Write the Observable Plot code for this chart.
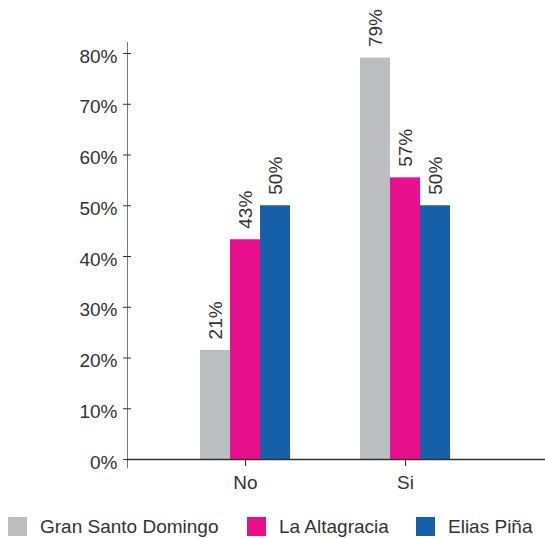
<!DOCTYPE html>
<html>
<head>
<meta charset="utf-8">
<script src="https://cdn.jsdelivr.net/npm/d3@7"></script>
<script src="https://cdn.jsdelivr.net/npm/@observablehq/plot@0.6"></script>
<style>
  body { margin: 0; background: #fff; }
  #chart { width: 545px; height: 538px; position: relative; overflow: hidden; background: #fff; }
  #chart svg { position: absolute; left: 0; top: 0; }
  .legend { position: absolute; left: 0; top: 517px; height: 21px; font-family: "Liberation Sans", Arial, sans-serif; font-size: 19px; color: #333; }
  .legend .sw { position: absolute; top: 0; width: 19px; height: 19px; }
  .legend .lab { position: absolute; top: -1px; line-height: 21px; white-space: nowrap; }
</style>
</head>
<body>
<div id="chart"></div>
<script>
const answers = ["No", "Si"];
const series = ["Gran Santo Domingo", "La Altagracia", "Elias Piña"];
const colors = ["#bcbdc0", "#e8108c", "#1560a8"];
const valuesNo = [21.5, 43.3, 50];
const valuesSi = [79.1, 55.5, 50];
const labelsNo = ["21%", "43%", "50%"];
const labelsSi = ["79%", "57%", "50%"];
const yTicks = [0, 10, 20, 30, 40, 50, 60, 70, 80];

const data = [];
series.forEach((s, i) => {
  data.push({answer: answers[0], series: s, value: valuesNo[i], label: labelsNo[i]});
  data.push({answer: answers[1], series: s, value: valuesSi[i], label: labelsSi[i]});
});

const frameOpts = {
  width: 545,
  height: 505,
  marginLeft: 127,
  marginRight: 0,
  marginTop: 53,
  marginBottom: 46,
  style: {fontFamily: "Liberation Sans, Arial, sans-serif", fontSize: "19px", color: "#333", background: "transparent", overflow: "visible"}
};
const bandOpts = {type: "band", domain: answers, paddingInner: 0.435, paddingOuter: 0.516, align: 0.434};

// Axes layer
const axes = Plot.plot({
  ...frameOpts,
  x: {...bandOpts, label: null},
  y: {domain: [0, 80], label: null},
  marks: [
    Plot.frame({anchor: "left", insetTop: -11, insetBottom: -8, stroke: "#777"}),
    Plot.axisY(yTicks, {tickFormat: () => "", tickSize: 8, dx: 4, stroke: "#333", label: null}),
    Plot.axisY(yTicks, {tickFormat: d => d + "%", tickSize: 0, tickPadding: 10, dy: 3, fill: "#333", label: null}),
    Plot.axisX({tickSize: 7, tickPadding: 9, stroke: "#333", fill: "#333", label: null}),
    Plot.ruleY([0], {stroke: "#333", strokeWidth: 1.5})
  ]
});

// Bars layer
const bars = Plot.plot({
  ...frameOpts,
  fx: {...bandOpts, axis: null, label: null},
  x: {domain: series, padding: 0, axis: null},
  y: {domain: [0, 80], axis: null},
  color: {domain: series, range: colors},
  marks: [
    Plot.barY(data, {fx: "answer", x: "series", y: "value", fill: "series"}),
    Plot.text(data, {fx: "answer", x: "series", y: "value", text: "label", rotate: -90, textAnchor: "start", lineAnchor: "middle", dy: -11, fill: "#333", fontSize: 19})
  ]
});

const chart = document.getElementById("chart");
chart.appendChild(bars);
chart.appendChild(axes);

const legend = document.createElement("div");
legend.className = "legend";
const swX = [8, 247, 416];
series.forEach((s, i) => {
  const sw = document.createElement("div");
  sw.className = "sw";
  sw.style.left = swX[i] + "px";
  sw.style.background = colors[i];
  const lab = document.createElement("div");
  lab.className = "lab";
  lab.style.left = (swX[i] + 32) + "px";
  lab.textContent = s;
  legend.appendChild(sw);
  legend.appendChild(lab);
});
chart.appendChild(legend);
</script>
</body>
</html>
